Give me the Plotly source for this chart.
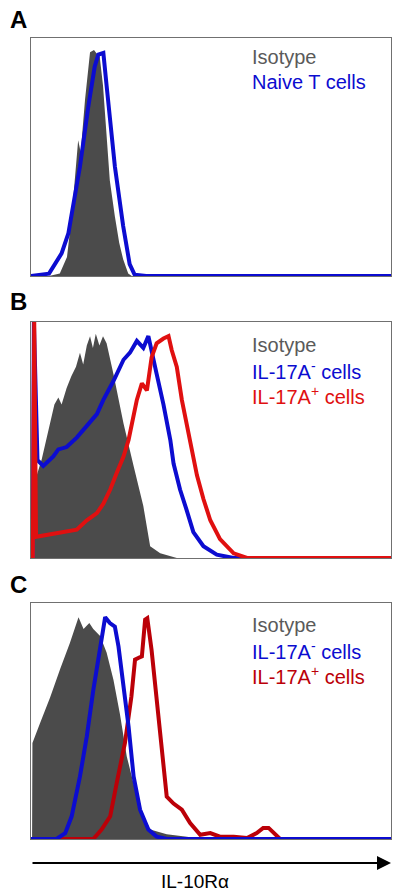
import plotly.graph_objects as go

# ---------------- data (x = fluorescence scale 0-100, y = % of max) ----------------
# Panel A
a_iso_x = [0, 5, 8, 10, 11.3, 12.5, 13.1, 13.8, 15.0, 16.4, 17.5, 18.5, 19.1, 20.0, 20.5, 21.0, 21.9, 23.3, 24.5, 25.6, 27.0, 28, 100]
a_iso_y = [0, 0, 1, 8, 25, 45, 57, 52, 74, 94, 95, 93, 92, 80, 70, 56, 40, 25, 14, 7, 1, 0, 0]
a_naive_x = [0, 3, 5, 8.5, 10.4, 11.3, 13.6, 15.9, 17.7, 18.7, 20.1, 21.0, 21.9, 23.3, 25.6, 27.4, 28.8, 32, 100]
a_naive_y = [0, 0.5, 1, 9.5, 18, 26, 46, 71, 88, 93, 93.7, 80, 68, 46, 21, 5, 0.5, 0, 0]

# Panel B
b_iso_x = [1.0, 1.2, 3, 5.3, 6.5, 7.6, 8.5, 9.9, 11.2, 12.5, 13.6, 14.5, 15.5, 16.4, 17.2, 18.0, 19.0, 20.0, 21.0, 22.9, 25.7, 28.5, 31.2, 33.1, 35.9, 40.5, 100]
b_iso_y = [0, 33, 42, 57, 65, 68, 65, 72, 77, 81, 87, 82, 90, 94, 89, 95, 90, 94, 91, 78, 57, 39, 22, 5, 2, 0, 0]
b_neg_x = [0.5, 0.8, 1.8, 3.4, 6.2, 7.6, 9.9, 12.7, 15.5, 18.3, 20.1, 22.9, 25.7, 27.5, 29.4, 31.2, 32.6, 33.5, 34.9, 36.8, 38.7, 39.6, 41.4, 43.3, 45.1, 47.9, 51.6, 56.3, 100]
b_neg_y = [0, 100, 41.5, 39, 43, 46, 47, 51, 56, 61, 67, 75, 84, 87, 92, 89, 94, 87, 78, 65, 50, 40, 29, 20, 11, 5, 1.4, 0, 0]
b_pos_x = [0.5, 0.9, 1.4, 12.7, 15.5, 18.3, 20.1, 22.0, 23.8, 25.7, 27.1, 28.5, 29.4, 30.8, 32.2, 33.5, 34.9, 36.8, 38.2, 39.1, 40.5, 41.9, 43.3, 44.7, 46.1, 47.9, 49.8, 52.5, 56.3, 60, 100]
b_pos_y = [0, 100, 9, 12, 16, 19, 23, 29, 36, 43, 50, 60, 67, 74, 71, 85, 91, 93, 94, 88, 81, 67, 57, 46, 35, 25, 16, 8, 2, 0, 0]

# Panel C
c_iso_x = [0.3, 0.4, 2.5, 5.3, 8.1, 10.8, 13.2, 14.6, 16.2, 17.3, 19.2, 21.0, 22.9, 24.7, 26.6, 28.5, 30.3, 33.1, 37.7, 43.3, 47, 100]
c_iso_y = [0, 40.7, 49, 60, 72, 83, 94, 89, 91.5, 89, 86, 79, 67.5, 53, 35, 24, 12.4, 4, 2, 1, 0, 0]
c_neg_x = [0, 7.1, 9.5, 11.3, 13.6, 15.5, 17.3, 18.7, 19.6, 20.6, 21.9, 23.3, 24.3, 25.7, 27.1, 28.5, 30.3, 32.6, 34.9, 37.7, 100]
c_neg_y = [0, 0, 2.5, 9.6, 26.5, 43.5, 63, 77, 86, 94, 91.5, 90, 81.6, 64.7, 47.7, 26.5, 12.4, 4, 1, 0, 0]
c_pos_x = [0, 17.3, 19.6, 22.0, 23.8, 26.1, 27.9, 28.9, 29.8, 30.8, 31.7, 32.3, 33.5, 34.9, 36.3, 37.7, 39.6, 41.9, 44.2, 47.0, 49.8, 52.5, 56.3, 60.0, 62.7, 64.5, 66.0, 67.4, 69.2, 100]
c_pos_y = [0, 0, 4, 9.6, 23.7, 40.7, 60.5, 76, 76.7, 77.4, 93, 93.6, 80, 60.5, 37.9, 18, 15, 12.4, 6.8, 1.8, 2.5, 1, 1, 0.4, 2.5, 4.7, 4.7, 2.5, 0, 0]

panel_letters = ["A", "B", "C"]
legend_a = ["Isotype", "Naive T cells"]
legend_bc = ["Isotype", "IL-17A<sup>-</sup> cells", "IL-17A<sup>+</sup> cells"]
x_label = "IL-10Rα"

# ---------------- styles ----------------
OFF = 8                      # default page body margin
W, H = 400 - OFF, 894 - OFF  # figure size so that it fills the 400x894 window
GRAY = "#4b4b4b"
GRAY_TXT = "#5a5a5a"
BLUE = "#0c0cd0"
RED_B = "#e01010"
RED_C = "#bb0008"
LW = 4
FONT = "Liberation Sans, Arial, sans-serif"

def px(pix):
    return (pix - OFF) / W

def py(pix):
    return (894 - pix) / H

boxes = [(38, 276), (322, 558), (603, 839)]
x_dom = [px(31), px(391)]

fig = go.Figure()

def add_panel(i, traces):
    ax = "" if i == 0 else str(i + 1)
    for x, y, kind, color in traces:
        if kind == "fill":
            fig.add_trace(go.Scatter(x=x, y=y, mode="lines", fill="tozeroy",
                                     fillcolor=color, line=dict(width=0, color=color),
                                     xaxis="x" + ax, yaxis="y" + ax, showlegend=False,
                                     hoverinfo="skip"))
        else:
            fig.add_trace(go.Scatter(x=x, y=y, mode="lines",
                                     line=dict(width=LW, color=color),
                                     xaxis="x" + ax, yaxis="y" + ax, showlegend=False,
                                     hoverinfo="skip"))

add_panel(0, [(a_iso_x, a_iso_y, "fill", GRAY), (a_naive_x, a_naive_y, "line", BLUE)])
add_panel(1, [(b_iso_x, b_iso_y, "fill", GRAY), (b_neg_x, b_neg_y, "line", BLUE),
              (b_pos_x, b_pos_y, "line", RED_B)])
add_panel(2, [(c_iso_x, c_iso_y, "fill", GRAY), (c_pos_x, c_pos_y, "line", RED_C),
              (c_neg_x, c_neg_y, "line", BLUE)])

layout = dict(width=W, height=H, margin=dict(l=0, r=0, t=0, b=0),
              paper_bgcolor="white", plot_bgcolor="white")
for i, (top, bot) in enumerate(boxes):
    ax = "" if i == 0 else str(i + 1)
    layout["xaxis" + ax] = dict(domain=x_dom, range=[0, 100], showgrid=False, zeroline=False,
                                showticklabels=False, ticks="", showline=True, mirror=True,
                                linecolor="#707070", linewidth=1,
                                anchor="y" + ax, fixedrange=True)
    layout["yaxis" + ax] = dict(domain=[py(bot), py(top)], range=[0, 100], showgrid=False,
                                zeroline=False, showticklabels=False, ticks="", showline=True,
                                mirror=True, linecolor="#707070", linewidth=1,
                                anchor="x" + ax, fixedrange=True)
fig.update_layout(**layout)

annotations = []
letter_y = [19, 302, 584]
for L, yy in zip(panel_letters, letter_y):
    annotations.append(dict(text="<b>%s</b>" % L, x=px(8), y=py(yy), xref="paper", yref="paper",
                            xanchor="left", yanchor="middle", showarrow=False,
                            font=dict(family=FONT, size=24, color="black")))

legend_colors_a = [GRAY_TXT, BLUE]
legend_colors_b = [GRAY_TXT, BLUE, RED_B]
legend_colors_c = [GRAY_TXT, BLUE, RED_C]
legend_sets = [(legend_a, legend_colors_a, 57), (legend_bc, legend_colors_b, 345),
               (legend_bc, legend_colors_c, 625)]
for texts, cols, y0 in legend_sets:
    for k, (t, c) in enumerate(zip(texts, cols)):
        annotations.append(dict(text=t, x=px(250), y=py(y0 + 25 * k), xref="paper", yref="paper",
                                xanchor="left", yanchor="middle", showarrow=False,
                                font=dict(family=FONT, size=20, color=c)))

# arrow
annotations.append(dict(x=px(391), y=py(863), xref="paper", yref="paper",
                        ax=-360, ay=0, axref="pixel", ayref="pixel",
                        text="", showarrow=True, arrowhead=2, arrowsize=1.4, arrowwidth=2,
                        arrowcolor="black"))
annotations.append(dict(text=x_label, x=px(195), y=py(881), xref="paper", yref="paper",
                        xanchor="center", yanchor="middle", showarrow=False,
                        font=dict(family=FONT, size=19, color="black")))
fig.update_layout(annotations=annotations)

fig.write_html("out.html")
